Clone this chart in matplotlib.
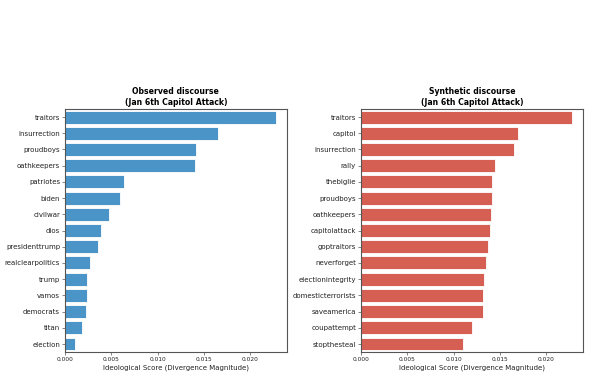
import matplotlib.pyplot as plt
import numpy as np

obs_terms = ['traitors', 'insurrection', 'proudboys', 'oathkeepers', 'patriotes', 'biden',
             'civilwar', 'dios', 'presidenttrump', 'realclearpolitics', 'trump', 'vamos',
             'democrats', 'titan', 'election']
obs_scores = [0.02277, 0.01657, 0.01416, 0.01401, 0.00634, 0.0059, 0.00472, 0.00392,
              0.0036, 0.0027, 0.00241, 0.00238, 0.00227, 0.0018, 0.00104]

syn_terms = ['traitors', 'capitol', 'insurrection', 'rally', 'thebiglie', 'proudboys',
             'oathkeepers', 'capitolattack', 'goptraitors', 'neverforget', 'electionintegrity',
             'domesticterrorists', 'saveamerica', 'coupattempt', 'stopthesteal']
syn_scores = [0.02274, 0.01698, 0.01655, 0.01446, 0.01418, 0.01414, 0.01399, 0.01395,
              0.01374, 0.01353, 0.01328, 0.01317, 0.01313, 0.01198, 0.01104]

xticks = [0.0, 0.005, 0.010, 0.015, 0.020]

fig, axes = plt.subplots(1, 2, figsize=(5.9, 3.77), dpi=100)
fig.subplots_adjust(left=0.11, right=0.988, top=0.711, bottom=0.066, wspace=0.334)

panels = [(obs_terms, obs_scores, '#4a94c8', 'Observed discourse\n(Jan 6th Capitol Attack)'),
          (syn_terms, syn_scores, '#d65f54', 'Synthetic discourse\n(Jan 6th Capitol Attack)')]

for ax, (terms, scores, col, title) in zip(axes, panels):
    y = np.arange(len(terms))
    ax.barh(y, scores, height=0.8, color=col, edgecolor='white', linewidth=0.6)
    ax.set_yticks(y)
    ax.set_yticklabels(terms, fontsize=5, color='#222222')
    ax.set_ylim(len(terms) - 0.5, -0.5)
    ax.set_xlim(0, 0.02396)
    ax.set_xticks(xticks)
    ax.set_xticklabels(['%.3f' % v for v in xticks], fontsize=4.2, color='#222222')
    ax.tick_params(axis='y', length=2, width=0.5, pad=1.5, color='#555555')
    ax.tick_params(axis='x', length=2, width=0.5, pad=1.5, color='#555555')
    ax.set_xlabel('Ideological Score (Divergence Magnitude)', fontsize=5, labelpad=1.5,
                  color='#222222')
    ax.set_title(title, fontsize=5.6, fontweight='bold', pad=3)
    for s in ax.spines.values():
        s.set_color('#555555')
        s.set_linewidth(0.8)

plt.savefig('out.png', dpi=100)
